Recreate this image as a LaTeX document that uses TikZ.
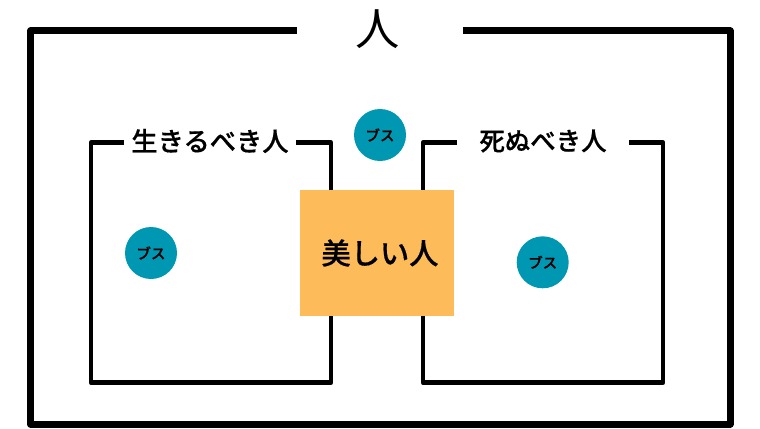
\documentclass[tikz,border=0pt]{standalone}
\usepackage{fontspec}
\setmainfont{Noto Sans CJK JP}
\newfontfamily\heavyfont[FakeBold=0.5]{Noto Sans CJK JP Medium}
\usepackage{tikz}
\pgfdeclarelayer{bg}
\pgfsetlayers{bg,main}
\definecolor{bijin}{HTML}{FDBB5A}
\definecolor{busu}{HTML}{0097B2}
\tikzset{
    every node/.style={inner sep=0mm},
    frameline/.style={line width=1.75mm, line join=round},
    groupline/.style={line width=1.125mm, line join=round},
    bijinbox/.style={rectangle, fill=bijin, minimum width=3.85cm, minimum height=3.15cm},
    bijinlabel/.style={font=\fontsize{20.8pt}{24pt}\selectfont\heavyfont},
    busudot/.style={circle, fill=busu, minimum size=1.3cm, font=\fontsize{10.3pt}{12pt}\selectfont\heavyfont},
    grouplabel/.style={font=\fontsize{18.7pt}{22pt}\selectfont\heavyfont},
    grouplabelb/.style={font=\fontsize{18.1pt}{22pt}\selectfont\heavyfont}
}

\begin{document}
\begin{tikzpicture}
        \useasboundingbox (0cm, 0cm) rectangle (19cm, 10.7cm);
        \node (all) at (9.435000cm, 9.960000cm) {\fontsize{31.5pt}{36pt}\selectfont 人};
        \node (live) [grouplabel] at (5.250000cm, 7.175000cm) {生きるべき人};
        \node (die) [grouplabelb] at (13.575000cm, 7.175000cm) {死ぬべき人};
        \node (bijin) [bijinbox] at (9.425000cm, 4.375000cm) {};
        \node (bijintext) [bijinlabel] at (9.500000cm, 4.375000cm) {美しい人};
        \node (b0) [busudot] at (9.500000cm, 7.325000cm) {ブス};
        \node (b1) [busudot] at (3.775000cm, 4.375000cm) {ブス};
        \node (b2) [busudot] at (13.567500cm, 4.142500cm) {ブス};
        \coordinate (a0) at (7.417500cm, 9.925000cm);
        \coordinate (a1) at (11.575000cm, 9.925000cm);
        \coordinate (l0) at (3.100000cm, 7.132500cm);
        \coordinate (l1) at (7.400000cm, 7.132500cm);
        \coordinate (d0) at (11.425000cm, 7.132500cm);
        \coordinate (d1) at (15.725000cm, 7.132500cm);
        \begin{pgfonlayer}{bg}
                \draw [frameline] (a0) -- (0.762500cm, 9.925000cm) -- (0.762500cm, 0.100000cm) -- (18.250000cm, 0.100000cm) -- (18.250000cm, 9.925000cm) -- (a1);
                \draw [groupline] (l0) -- (2.275000cm, 7.132500cm) -- (2.275000cm, 1.132500cm) -- (8.275000cm, 1.132500cm) -- (8.275000cm, 7.132500cm) -- (l1);
                \draw [groupline] (d0) -- (10.575000cm, 7.132500cm) -- (10.575000cm, 1.132500cm) -- (16.575000cm, 1.132500cm) -- (16.575000cm, 7.132500cm) -- (d1);
        \end{pgfonlayer}
\end{tikzpicture}
\end{document}
